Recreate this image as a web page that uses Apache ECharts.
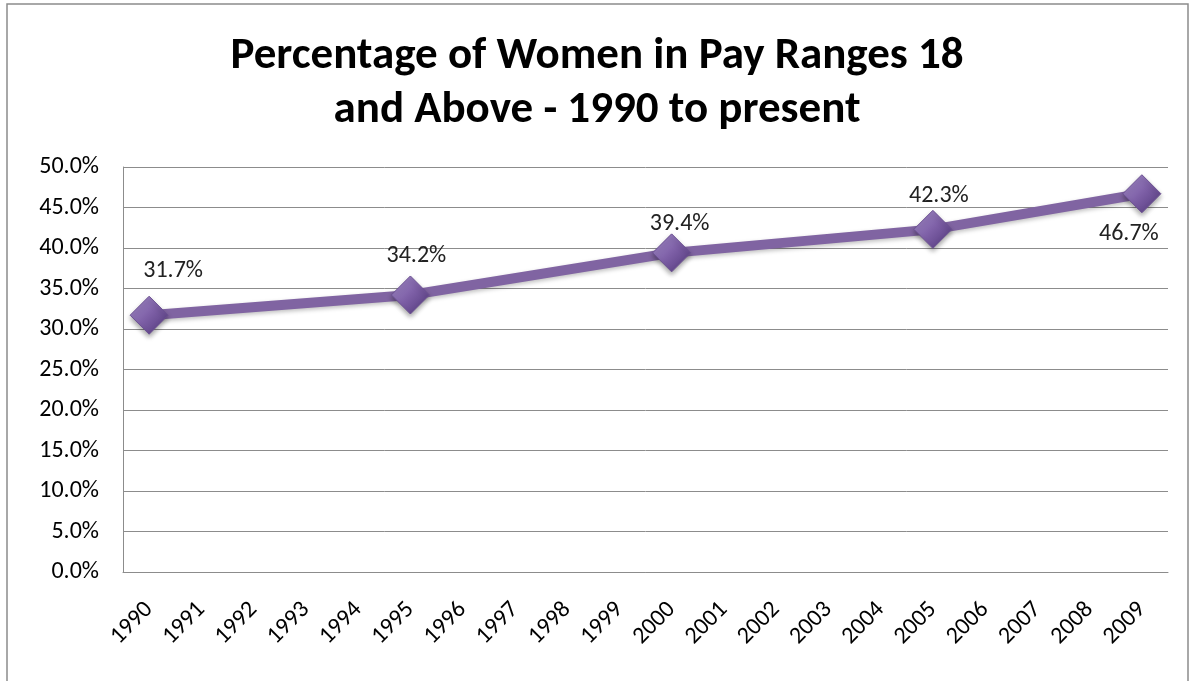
<!DOCTYPE html>
<html>
<head>
<meta charset="utf-8">
<script src="https://cdn.jsdelivr.net/npm/echarts@6/dist/echarts.min.js"></script>
<style>
html,body{margin:0;padding:0;background:#fff;}
#chart{width:1194px;height:681px;}
</style>
</head>
<body>
<div id="chart"></div>
<script>
// categories on the x axis
const years = ['1990','1991','1992','1993','1994','1995','1996','1997','1998','1999',
               '2000','2001','2002','2003','2004','2005','2006','2007','2008','2009'];
// years that have a measured value
const pointYears = ['1990','1995','2000','2005','2009'];
const pointValues = [31.7, 34.2, 39.4, 42.3, 46.7];

const titleText = 'Percentage of Women in Pay Ranges 18\nand Above - 1990 to present';
const fontMain = 'Carlito, Calibri, "Liberation Sans Narrow", "Open Sans", sans-serif';

// label placement per point (index into pointValues)
const labelPos = ['top','top','top','top','bottom'];
const labelOff = [[24,-13],[6,-7],[8,3],[6,-2],[-13,9]];

const chart = echarts.init(document.getElementById('chart'));

const diamondFill = new echarts.graphic.LinearGradient(0, 0, 1, 1, [
  {offset: 0, color: '#a992cf'},
  {offset: 0.5, color: '#7d5fa6'},
  {offset: 1, color: '#4f3578'}
]);

const seriesData = pointYears.map(function (y, i) {
  return {
    value: [y, pointValues[i]],
    label: {position: labelPos[i], offset: labelOff[i]}
  };
});

chart.setOption({
  animation: false,
  title: {
    text: titleText,
    left: 'center',
    top: 25,
    textStyle: {
      fontFamily: fontMain,
      fontWeight: 'bold',
      fontSize: 45,
      lineHeight: 54,
      color: '#000'
    }
  },
  graphic: [{
    type: 'rect',
    shape: {x: 7, y: 4, width: 1181, height: 700},
    style: {fill: 'none', stroke: '#8c8c8c', lineWidth: 1.5}
  }],
  grid: {left: 123, right: 26, top: 167, bottom: 109},
  xAxis: {
    type: 'category',
    data: years,
    boundaryGap: true,
    axisLine: {lineStyle: {color: '#8c8c8c'}},
    axisTick: {show: false},
    axisLabel: {
      rotate: 45,
      margin: 34,
      interval: 0,
      fontFamily: fontMain,
      fontSize: 24,
      color: '#000'
    }
  },
  yAxis: {
    type: 'value',
    min: 0,
    max: 50,
    interval: 5,
    axisLine: {show: true, lineStyle: {color: '#8c8c8c'}},
    axisTick: {show: false},
    splitLine: {lineStyle: {color: '#8c8c8c'}},
    axisLabel: {
      margin: 24,
      fontFamily: fontMain,
      fontSize: 24,
      color: '#000',
      formatter: function (v) { return v.toFixed(1) + '%'; }
    }
  },
  series: [{
    type: 'line',
    data: seriesData,
    symbol: 'diamond',
    symbolSize: 38,
    lineStyle: {
      color: '#8064a2',
      width: 10,
      shadowColor: 'rgba(0,0,0,0.25)',
      shadowBlur: 4,
      shadowOffsetY: 2
    },
    itemStyle: {
      color: diamondFill,
      borderColor: '#6a4f91',
      borderWidth: 1,
      shadowColor: 'rgba(0,0,0,0.35)',
      shadowBlur: 5,
      shadowOffsetY: 3
    },
    label: {
      show: true,
      distance: 0,
      fontFamily: fontMain,
      fontSize: 24,
      color: '#222',
      formatter: function (p) { return p.value[1].toFixed(1) + '%'; }
    },
    emphasis: {disabled: true}
  }]
});
</script>
</body>
</html>
